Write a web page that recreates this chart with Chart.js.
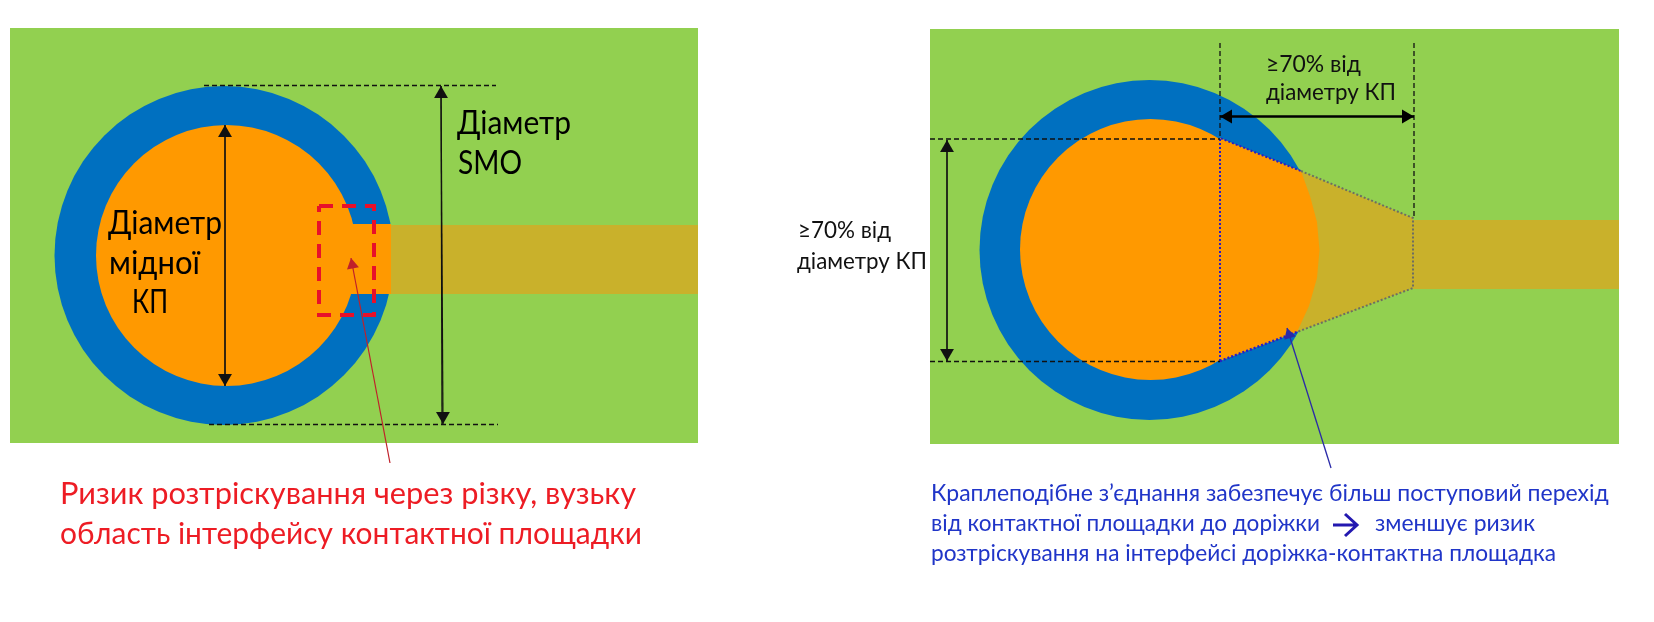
<!DOCTYPE html>
<html>
<head>
<meta charset="utf-8">
<title>Крапле-подібне з'єднання</title>
<script src="https://cdn.jsdelivr.net/npm/chart.js@4"></script>
<style>
    html, body { margin: 0; background: #fff; }
    canvas { display: block; }
</style>
</head>
<body>
<canvas id="diagram" width="1654" height="622"></canvas>
<script>
// Geometry, in picture pixels
const leftBoard = [[10, 28], [698, 28], [698, 443], [10, 443]];
const rightBoard = [[930, 29], [1619, 29], [1619, 444], [930, 444]];
const leftTrace = [[391, 225], [698, 225], [698, 294], [391, 294]];
const rightTrace = [[1413, 220], [1619, 220], [1619, 289], [1413, 289]];
const leftNeck = [[345, 224], [391, 224], [391, 294], [345, 294]];
const teardropGold = [[1270, 158.4], [1413, 218], [1413, 288], [1270, 342]];
const teardropCopper = [[1220, 138], [1301, 171], [1310, 196], [1317, 222], [1319.5, 250], [1317, 278], [1309, 306], [1297, 332], [1220, 361]];

const smoCircles = [[224, 255.5, 169.5], [1149.5, 250, 170]];
const copperCircles = [[226.5, 255.5, 130.5], [1150.5, 249.5, 130.5]];

const riskBox = [[319, 206], [374, 206], [374, 315], [319, 315], [319, 206]];
const dottedBlue = [[1220, 361], [1220, 138], [1301, 171]];
const dottedBlueLow = [[1220, 361], [1297, 332]];
const dottedGrey = [[1301, 171], [1413, 218], [1413, 288], [1297, 332]];

const dashedLines = [
    [[204, 85.5], [496, 85.5]],
    [[209, 424.5], [498, 424.5]],
    [[1220, 43], [1220, 138]],
    [[1414, 43], [1414, 218]],
    [[930, 139], [1220, 139]],
    [[930, 361.5], [1220, 361.5]]
];

// shaft start, shaft end
const blackArrows = [
    [[225, 125], [225, 386]],
    [[225, 386], [225, 125]],
    [[442, 424], [441, 86]],
    [[441, 86], [443, 424]],
    [[947, 361], [947, 140]],
    [[947, 140], [947, 361]]
];
const wideArrows = [
    [[1414, 116.5], [1220, 116.5]],
    [[1220, 116.5], [1414, 116.5]]
];
const redArrow = [[390, 463], [351, 258]];
const blueArrow = [[1331, 468], [1287, 328]];
const inlineArrow = [[1333, 525], [1356, 525], null, [1345, 514], [1357, 525], [1345, 536]];

// text, x, baseline, width
const bigLabels = [
    ['Діаметр', 457, 134, 114],
    ['SMO', 458, 174, 64],
    ['Діаметр', 108, 234, 114],
    ['мідної', 109, 274, 91],
    ['КП', 132, 313, 36]
];
const smallLabels = [
    ['≥70% від', 1266, 72, 95],
    ['діаметру КП', 1266, 100, 130],
    ['≥70% від', 798, 238, 93],
    ['діаметру КП', 797, 269, 130]
];
const redLabels = [
    ['Ризик розтріскування через різку, вузьку', 60, 504, 576],
    ['область інтерфейсу контактної площадки', 60, 544, 582]
];
const blueLabels = [
    ['Краплеподібне з’єднання забезпечує більш поступовий перехід', 931, 501, 678],
    ['від контактної площадки до доріжки', 931, 531, 389],
    ['зменшує ризик', 1375, 531, 160],
    ['розтріскування на інтерфейсі доріжка-контактна площадка', 931, 561, 625]
];

const GREEN = '#92D050';
const BLUE = '#0070C0';
const ORANGE = '#FF9900';
const GOLD = '#C9B12B';

const toPoints = list => list.map(p => p ? { x: p[0], y: p[1] } : { x: null, y: null });

function polygon(list, color) {
    return { data: toPoints(list), fill: 'shape', backgroundColor: color, borderWidth: 0, pointRadius: 0 };
}

function circle(c, color) {
    return {
        data: [{ x: c[0], y: c[1] }],
        showLine: false,
        pointRadius: c[2],
        pointBackgroundColor: color,
        pointBorderWidth: 0
    };
}

function stroke(list, color, width, dash) {
    return { data: toPoints(list), fill: false, borderColor: color, borderWidth: width, borderDash: dash || [], pointRadius: 0 };
}

// shaft plus a triangle marker turned along the shaft, tip on the end point
function arrow(a, color, width, size) {
    const dx = a[1][0] - a[0][0];
    const dy = a[1][1] - a[0][1];
    const len = Math.hypot(dx, dy);
    return [
        stroke(a, color, width),
        {
            data: [{ x: a[1][0] - dx / len * size, y: a[1][1] - dy / len * size }],
            showLine: false,
            pointStyle: 'triangle',
            pointRadius: size,
            pointRotation: Math.atan2(dx, -dy) * 180 / Math.PI,
            pointBackgroundColor: color,
            pointBorderWidth: 0
        }
    ];
}

// listed in paint order, first is at the bottom
const layers = [
    polygon(leftBoard, GREEN),
    polygon(rightBoard, GREEN),
    polygon(rightTrace, GOLD),
    circle(smoCircles[0], BLUE),
    circle(smoCircles[1], BLUE),
    polygon(teardropGold, GOLD),
    circle(copperCircles[0], ORANGE),
    circle(copperCircles[1], ORANGE),
    polygon(leftNeck, ORANGE),
    polygon(leftTrace, GOLD),
    polygon(teardropCopper, ORANGE),
    stroke(riskBox, '#E8102A', 4, [14, 9]),
    stroke(dottedGrey, '#6E6E62', 2, [2, 2]),
    stroke(dottedBlue, '#2A1CC4', 2, [2, 2]),
    stroke(dottedBlueLow, '#2A1CC4', 2.5, [2, 2])
];
dashedLines.forEach(l => layers.push(stroke(l, '#111', 1.3, [5, 3])));
blackArrows.forEach(a => layers.push(...arrow(a, '#111', 1.2, 8)));
wideArrows.forEach(a => layers.push(...arrow(a, '#000', 2, 8)));
layers.push(...arrow(redArrow, '#C0202A', 1.2, 7));
layers.push(...arrow(blueArrow, '#2A2AA8', 1.3, 7));
layers.push(stroke(inlineArrow, '#2318B0', 3));

layers.forEach((d, i) => { d.order = layers.length - i; });

const textPlugin = {
    id: 'diagramText',
    afterDraw(chart) {
        const ctx = chart.ctx;
        const put = (list, font, color) => {
            ctx.font = font;
            ctx.fillStyle = color;
            ctx.textAlign = 'left';
            ctx.textBaseline = 'alphabetic';
            list.forEach(t => {
                const x = chart.scales.x.getPixelForValue(t[1]);
                const y = chart.scales.y.getPixelForValue(t[2]);
                ctx.fillText(t[0], x, y, t[3]);
            });
        };
        put(bigLabels, '32px Lato, "Open Sans", sans-serif', '#000');
        put(smallLabels, '23px Lato, "Open Sans", sans-serif', '#111');
        put(redLabels, '31px Lato, "Open Sans", sans-serif', '#ED1C24');
        put(blueLabels, '23px Lato, "Open Sans", sans-serif', '#2035C8');
    }
};

new Chart(document.getElementById('diagram'), {
    type: 'line',
    data: { datasets: layers },
    options: {
        responsive: false,
        animation: false,
        spanGaps: false,
        layout: { padding: 0, autoPadding: false },
        plugins: { legend: { display: false }, tooltip: { enabled: false } },
        scales: {
            x: { type: 'linear', min: 0, max: 1654, display: false },
            y: { type: 'linear', min: 0, max: 622, reverse: true, display: false }
        }
    },
    plugins: [textPlugin]
});
</script>
</body>
</html>
